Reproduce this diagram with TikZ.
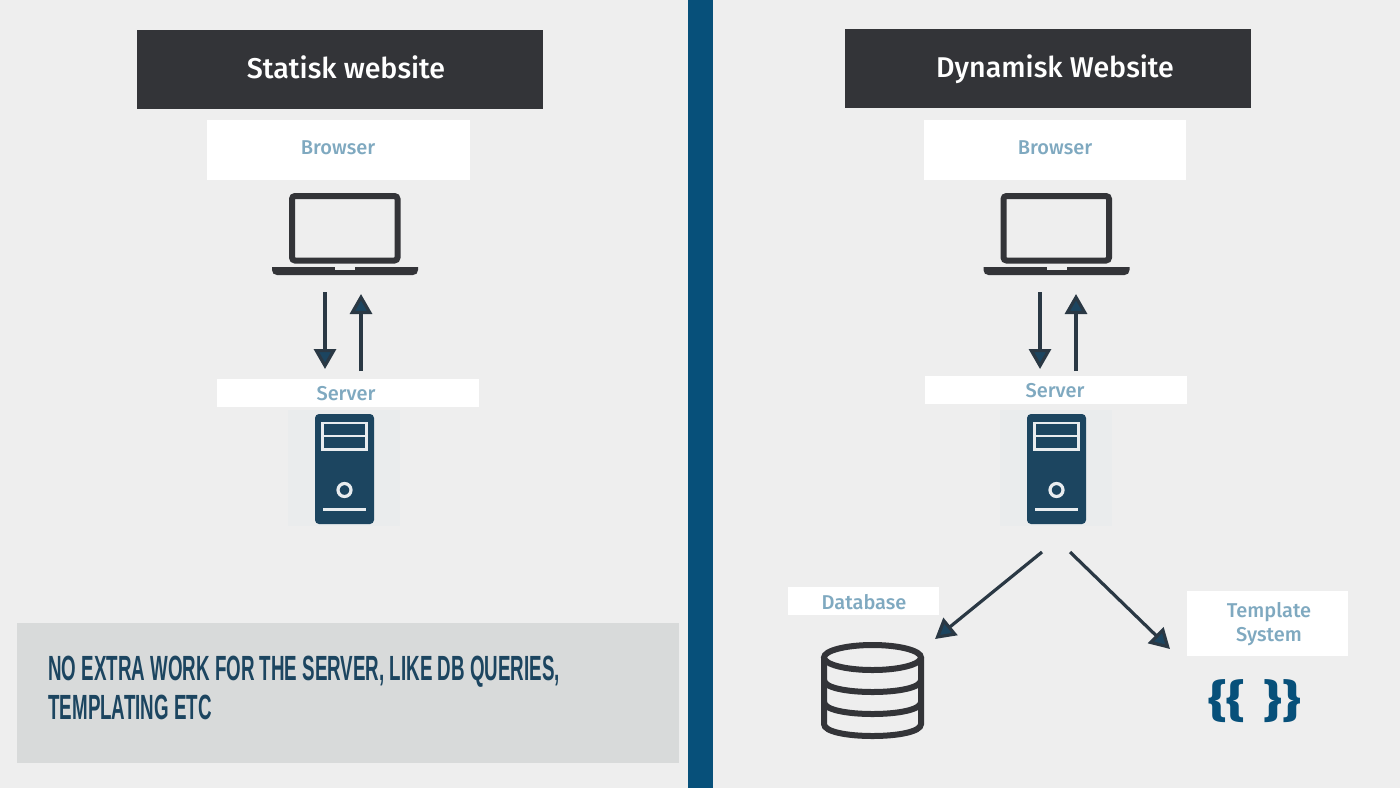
\documentclass[tikz,border=0pt]{standalone}
\usepackage{fontspec}
\usetikzlibrary{arrows.meta}
\setmainfont{Fira Sans}
\newfontfamily\medfont{Fira Sans Medium}
\newfontfamily\bracefont[FakeStretch=1.3]{Fira Sans}
\newfontfamily\condfont[FakeStretch=0.536]{Liberation Sans}
\definecolor{bgc}{HTML}{EEEEEE}
\definecolor{barc}{HTML}{07507A}
\definecolor{darkc}{HTML}{333438}
\definecolor{inkc}{HTML}{1C4560}
\definecolor{shaftc}{HTML}{2A3844}
\definecolor{labc}{HTML}{7FA9C0}
\definecolor{notec}{HTML}{D8DADA}
\definecolor{haloc}{HTML}{EAECED}
\tikzset{
  x=0.5pt,y=-0.5pt,
  titlebox/.style={fill=darkc,inner sep=0pt,minimum width=203pt,minimum height=39.5pt},
  titletext/.style={text=white,inner sep=0pt,anchor=base,font=\medfont\fontsize{14.3}{17}\selectfont},
  labelbox/.style={fill=white,inner sep=0pt},
  labeltext/.style={text=labc,inner sep=0pt,font=\medfont\fontsize{10}{12}\selectfont},
  flow/.style={draw=shaftc,line width=1.6pt,-{Triangle[length=10pt,width=11pt,fill=inkc]}},
  iconline/.style={draw=darkc,line width=3pt},
  notetext/.style={anchor=base west,inner sep=0pt,text=inkc,font=\condfont\bfseries\fontsize{17.5}{20}\selectfont}
}
\newcommand{\laptopicon}{%
  \draw[iconline,rounded corners=1.5pt] (292,196) rectangle (397.5,260.5);
  \fill[darkc] (272,267) -- (418,267) -- (418,270) .. controls (418,273) and (416,275) .. (413,275) -- (277,275) .. controls (274,275) and (272,273) .. (272,270) -- cycle;
  \fill[bgc] (335,267) rectangle (355,269.5);
}
\newcommand{\towericon}{%
  \fill[haloc] (288,410) rectangle (400,526);
  \fill[inkc,rounded corners=2pt] (315,414) rectangle (374,524);
  \draw[white!90!inkc,line width=1.3pt] (322.5,423) rectangle (366.5,449.5) (322.5,436) -- (366.5,436) (323,509.5) -- (366,509.5);
  \draw[white!90!inkc,line width=1.6pt] (344.5,490) circle [radius=6.5];
}
\begin{document}
\begin{tikzpicture}
\useasboundingbox (0,0) rectangle (1400,788);
\fill[bgc] (0,0) rectangle (1400,788);
\fill[barc] (688,0) rectangle (713,788);

% left column
\node[titlebox] (t1) at (340,69) {};
\node[titletext] (t1t) at (346,78.5) {Statisk website};
\node[labelbox,minimum width=131.5pt,minimum height=30pt] (b1box) at (338.5,150) {};
\node[labeltext] (b1) at (338,147.5) {Browser};
\laptopicon
\node[labelbox,minimum width=131pt,minimum height=14pt] (s1) at (348,393) {};
\node[labeltext] (s1t) at (346,394) {Server};
\towericon
\coordinate (d1a) at (325,292); \coordinate (d1b) at (325,369);
\coordinate (u1a) at (361,371); \coordinate (u1b) at (361,294);
\draw[flow] (d1a) -- (d1b);
\draw[flow] (u1a) -- (u1b);

% note
\node[fill=notec,inner sep=0pt,minimum width=331pt,minimum height=70pt] (note) at (348,693) {};
\node[notetext] (n1) at (48,680) {NO EXTRA WORK FOR THE SERVER, LIKE DB QUERIES,};
\node[notetext] (n2) at (48,719) {TEMPLATING ETC};

% right column
\node[titlebox] (t2) at (1047.5,68.5) {};
\node[titletext] (t2t) at (1055,77.5) {Dynamisk Website};
\node[labelbox,minimum width=131pt,minimum height=30pt] (b2box) at (1055,150) {};
\node[labeltext] (b2) at (1055,147.5) {Browser};
\begin{scope}[shift={(711.5,0)}]\laptopicon\end{scope}
\node[labelbox,minimum width=131pt,minimum height=14pt] (s2) at (1056,390) {};
\node[labeltext] (s2t) at (1055,390.5) {Server};
\begin{scope}[shift={(712,0)}]\towericon\end{scope}
\coordinate (d2a) at (1040,292); \coordinate (d2b) at (1040,369);
\coordinate (u2a) at (1076,371); \coordinate (u2b) at (1076,294);
\draw[flow] (d2a) -- (d2b);
\draw[flow] (u2a) -- (u2b);

% branch to database and templates
\coordinate (ba) at (1042,552); \coordinate (bb) at (935,639);
\coordinate (ca) at (1070,552); \coordinate (cb) at (1170,649);
\draw[flow] (ba) -- (bb);
\draw[flow] (ca) -- (cb);

\node[labelbox,minimum width=75.5pt,minimum height=14pt] (dbbox) at (863.5,601) {};
\node[labeltext] (db) at (864,602) {Database};
\draw[iconline] (872.5,657.5) ellipse [x radius=48.5,y radius=12.5];
\draw[iconline] (824,657.5) -- (824,724) .. controls (824,740) and (921,740) .. (921,724) -- (921,657.5);
\draw[iconline] (824,680) .. controls (824,696) and (921,696) .. (921,680);
\draw[iconline] (824,702) .. controls (824,718) and (921,718) .. (921,702);

\node[labelbox,minimum width=80.5pt,minimum height=32.5pt] (tsbox) at (1267.5,623.5) {};
\node[labeltext,align=center] (ts) at (1269,624) {Template\\[0pt]System};
\node[text=barc,inner sep=0pt,font=\bracefont\bfseries\fontsize{22}{24}\selectfont] (br) at (1254.5,701) {\{\{\hspace{9pt}\}\}};
\end{tikzpicture}
\end{document}
